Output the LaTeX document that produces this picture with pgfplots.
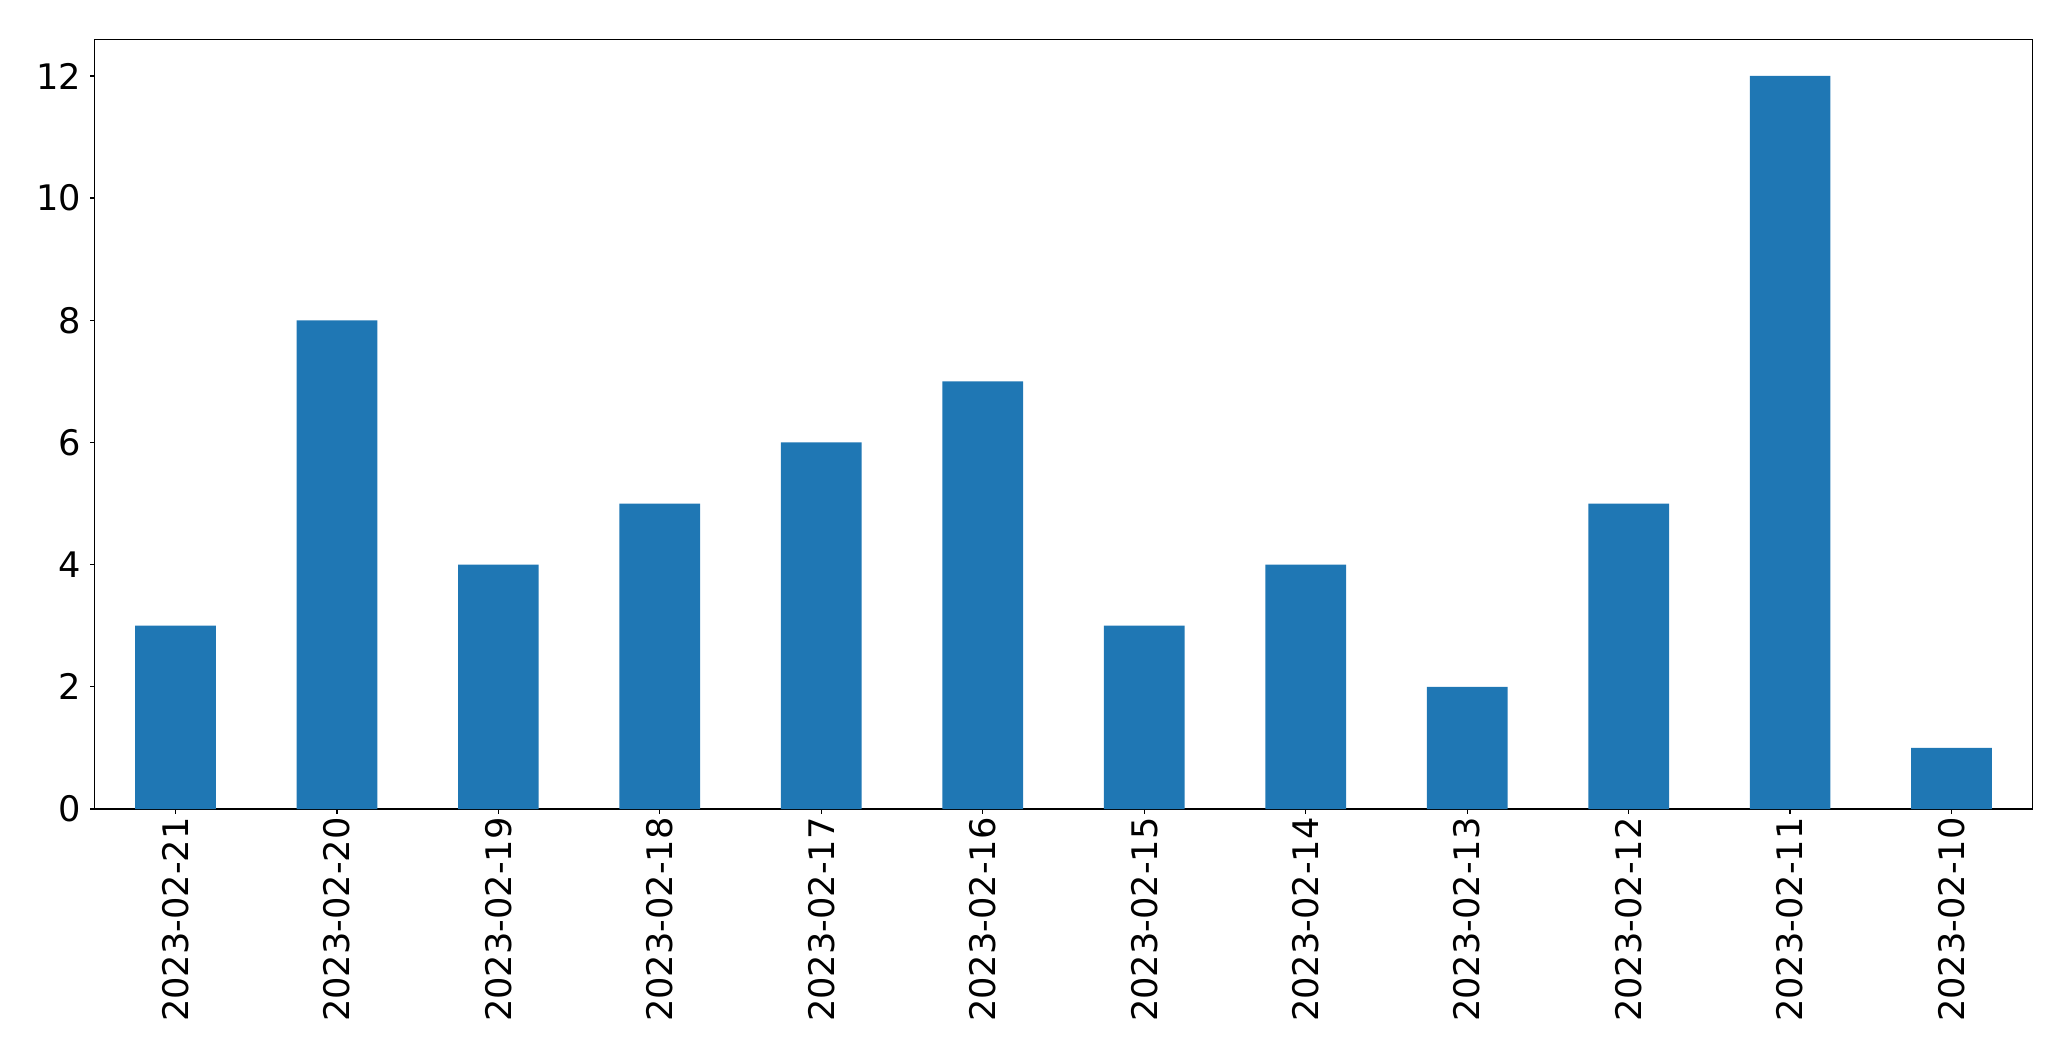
\documentclass[border=0pt]{standalone}
\usepackage{fontspec}
\setmainfont{DejaVu Sans}
\usepackage{pgfplots}
\pgfplotsset{compat=1.18}

\definecolor{barblue}{RGB}{31,119,180}

\begin{document}
\fontsize{17.6pt}{21pt}\selectfont
\begin{tikzpicture}
\begin{axis}[
  scale only axis,
  width=968.8pt,
  height=384.85pt,
  xmin=-0.5, xmax=11.5,
  ymin=0, ymax=12.6,
  axis line style={line width=0.65pt},
  every tick/.style={black, line width=0.65pt},
  tick align=outside,
  major tick length=2.35pt,
  xtick=data,
  xticklabels={2023-02-21,2023-02-20,2023-02-19,2023-02-18,2023-02-17,2023-02-16,2023-02-15,2023-02-14,2023-02-13,2023-02-12,2023-02-11,2023-02-10},
  ytick={0,2,4,6,8,10,12},
  xtick pos=bottom, ytick pos=left,
  /pgf/number format/assume math mode=true,
  xticklabel style={yshift=-1.6pt, rotate=90, anchor=east, inner sep=0pt},
  yticklabel style={anchor=east, inner sep=0pt, xshift=-4.2pt},
]
\addplot[ybar, bar width=0.5, fill=barblue, draw=none] coordinates {
  (0,3) (1,8) (2,4) (3,5) (4,6) (5,7) (6,3) (7,4) (8,2) (9,5) (10,12) (11,1)
};
\end{axis}
\path (current axis.south west) ++(-47.35pt,-126pt) rectangle ([shift={(19.35pt,19.65pt)}]current axis.north east);
\end{tikzpicture}
\end{document}
